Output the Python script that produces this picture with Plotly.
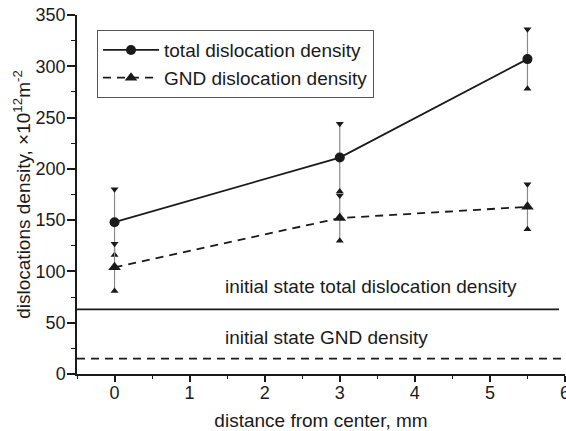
import plotly.graph_objects as go

# distance from the sample center, mm
distance = [0, 3, 5.5]

# total dislocation density and its scatter, x10^12 m^-2
total_density = [148, 211, 307]
total_err = [32, 33, 29]

# geometrically necessary dislocation (GND) density and its scatter
gnd_density = [104, 152, 163]
gnd_err = [23, 22, 22]

# densities of the initial (undeformed) state
initial_total = 63
initial_gnd = 15
initial_total_span = [-0.5, 5.92]
initial_gnd_span = [-0.5, 6]

FONT = "Liberation Sans, Arial, sans-serif"
INK = "#1a1a1a"

fig = go.Figure()


def add_series(x, y, err, name, dash, symbol, size):
    # thin grey scatter bars
    fig.add_trace(go.Scatter(
        x=x, y=y, mode="markers", showlegend=False, hoverinfo="skip",
        marker=dict(size=1, color="rgba(0,0,0,0)"),
        error_y=dict(type="data", array=err, visible=True, width=0,
                     thickness=1.2, color="#8a8a8a"),
    ))
    # inward-pointing triangular caps at both ends of each bar
    fig.add_trace(go.Scatter(
        x=x, y=[v + e for v, e in zip(y, err)], mode="markers",
        showlegend=False, hoverinfo="skip",
        marker=dict(symbol="triangle-down", size=7, color=INK),
    ))
    fig.add_trace(go.Scatter(
        x=x, y=[v - e for v, e in zip(y, err)], mode="markers",
        showlegend=False, hoverinfo="skip",
        marker=dict(symbol="triangle-up", size=7, color=INK),
    ))
    # the series itself
    fig.add_trace(go.Scatter(
        x=x, y=y, mode="lines+markers", name=name,
        line=dict(color=INK, width=1.8, dash=dash),
        marker=dict(symbol=symbol, size=size, color=INK),
    ))


add_series(distance, total_density, total_err,
           "total dislocation density", "solid", "circle", 10)
add_series(distance, gnd_density, gnd_err,
           "GND dislocation density", "8px,6px", "triangle-up", 11)

# initial-state reference levels
fig.add_trace(go.Scatter(
    x=initial_total_span, y=[initial_total] * 2, mode="lines",
    showlegend=False, hoverinfo="skip",
    line=dict(color=INK, width=1.8),
))
fig.add_trace(go.Scatter(
    x=initial_gnd_span, y=[initial_gnd] * 2, mode="lines",
    showlegend=False, hoverinfo="skip", cliponaxis=False,
    line=dict(color=INK, width=1.8, dash="8px,6px"),
))

fig.add_annotation(x=1.44, y=initial_total + 22, xref="x", yref="y",
                   text="initial state total dislocation density",
                   showarrow=False, xanchor="left", yanchor="middle",
                   font=dict(family=FONT, size=19, color=INK))
fig.add_annotation(x=1.44, y=initial_gnd + 21, xref="x", yref="y",
                   text="initial state GND density",
                   showarrow=False, xanchor="left", yanchor="middle",
                   font=dict(family=FONT, size=19, color=INK))

axis_common = dict(
    showgrid=False, zeroline=False, showline=True, linecolor=INK,
    linewidth=1.5, ticks="outside", tickcolor=INK, tickwidth=1.5,
    tickfont=dict(family=FONT, size=18, color=INK),
    ticklabeloverflow="allow",
)

fig.update_xaxes(
    **axis_common, range=[-0.5, 6], tickvals=[0, 1, 2, 3, 4, 5, 6],
    ticklen=6, ticklabelstandoff=-4,
    minor=dict(ticks="outside", dtick=0.5, ticklen=3, tickcolor=INK,
               tickwidth=1.2, showgrid=False),
    title=dict(text="distance from center, mm", standoff=20,
               font=dict(family=FONT, size=19, color=INK)),
)
fig.update_yaxes(
    **axis_common, range=[0, 350], dtick=50, ticklen=8,
    ticklabelstandoff=-2,
    minor=dict(ticks="outside", dtick=25, ticklen=4, tickcolor=INK,
               tickwidth=1.2, showgrid=False),
    title=dict(text="dislocations density, \u00d710<sup>12</sup>m<sup>-2</sup>",
               standoff=0, font=dict(family=FONT, size=19, color=INK)),
)

fig.update_layout(
    width=566, height=431,
    margin=dict(l=77, r=1, t=15, b=57, autoexpand=False),
    paper_bgcolor="white", plot_bgcolor="white",
    font=dict(family=FONT, size=19, color=INK),
    legend=dict(x=0.041, y=0.958, xanchor="left", yanchor="top",
                bordercolor="#555555", borderwidth=1, bgcolor="white",
                font=dict(family=FONT, size=19, color=INK),
                itemwidth=56, tracegroupgap=0),
)

fig.write_html("out.html")
